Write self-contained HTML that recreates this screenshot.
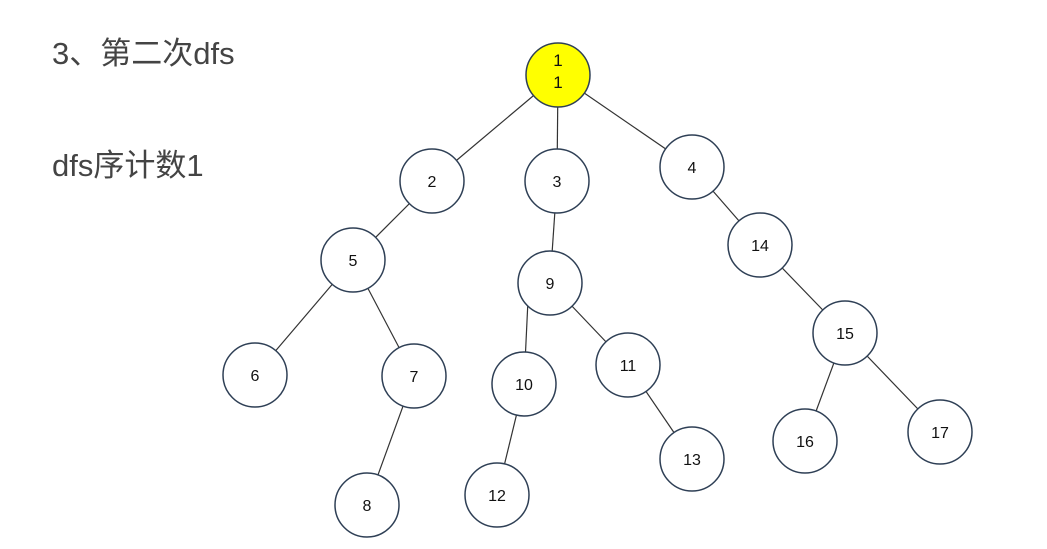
<!DOCTYPE html>
<html><head><meta charset="utf-8"><style>
html,body{margin:0;padding:0;background:#fff;width:1047px;height:549px;overflow:hidden}
.t{position:absolute;left:52px;font-family:"Liberation Sans","Noto Sans CJK SC",sans-serif;font-size:31px;color:#444;line-height:1;white-space:nowrap}
</style></head><body>
<div class="t" style="top:38px">3、第二次dfs</div>
<div class="t" style="top:150px">dfs序计数1</div>
<svg width="1047" height="549" style="position:absolute;left:0;top:0" font-family="Liberation Sans, sans-serif" font-size="16" text-anchor="middle">
<g stroke="#333" stroke-width="1.2">
<line x1="558" y1="75" x2="432" y2="181"/>
<line x1="558" y1="75" x2="557" y2="181"/>
<line x1="558" y1="75" x2="692" y2="167"/>
<line x1="432" y1="181" x2="353" y2="260"/>
<line x1="353" y1="260" x2="255" y2="375"/>
<line x1="353" y1="260" x2="414" y2="376"/>
<line x1="414" y1="376" x2="367" y2="505"/>
<line x1="557" y1="181" x2="550" y2="283"/>
<line x1="528" y1="300" x2="524" y2="384"/>
<line x1="550" y1="283" x2="628" y2="365"/>
<line x1="524" y1="384" x2="497" y2="495"/>
<line x1="628" y1="365" x2="692" y2="459"/>
<line x1="692" y1="167" x2="760" y2="245"/>
<line x1="760" y1="245" x2="845" y2="333"/>
<line x1="845" y1="333" x2="805" y2="441"/>
<line x1="845" y1="333" x2="940" y2="432"/>
</g>
<g stroke="#2e3f55" stroke-width="1.5" fill="#fff">
<circle cx="558" cy="75" r="32" fill="#ffff00"/>
<circle cx="432" cy="181" r="32"/>
<circle cx="557" cy="181" r="32"/>
<circle cx="692" cy="167" r="32"/>
<circle cx="353" cy="260" r="32"/>
<circle cx="760" cy="245" r="32"/>
<circle cx="550" cy="283" r="32"/>
<circle cx="255" cy="375" r="32"/>
<circle cx="414" cy="376" r="32"/>
<circle cx="524" cy="384" r="32"/>
<circle cx="628" cy="365" r="32"/>
<circle cx="845" cy="333" r="32"/>
<circle cx="497" cy="495" r="32"/>
<circle cx="692" cy="459" r="32"/>
<circle cx="805" cy="441" r="32"/>
<circle cx="940" cy="432" r="32"/>
<circle cx="367" cy="505" r="32"/>
</g>
<g fill="#111">
<text x="558" y="66" font-size="17">1</text><text x="558" y="88" font-size="17">1</text>
<text x="432" y="187">2</text>
<text x="557" y="187">3</text>
<text x="692" y="173">4</text>
<text x="353" y="266">5</text>
<text x="760" y="251">14</text>
<text x="550" y="289">9</text>
<text x="255" y="381">6</text>
<text x="414" y="382">7</text>
<text x="524" y="390">10</text>
<text x="628" y="371">11</text>
<text x="845" y="339">15</text>
<text x="497" y="501">12</text>
<text x="692" y="465">13</text>
<text x="805" y="447">16</text>
<text x="940" y="438">17</text>
<text x="367" y="511">8</text>
</g>
</svg>
</body></html>
